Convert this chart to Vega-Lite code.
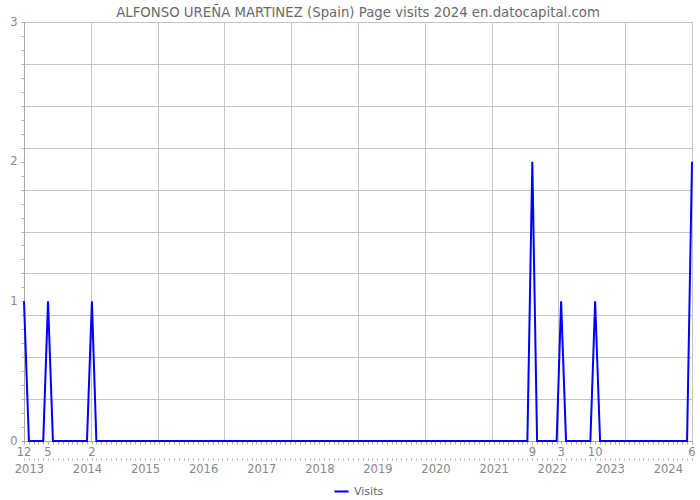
{
  "$schema": "https://vega.github.io/schema/vega-lite/v6.json",
  "width": 668,
  "height": 419,
  "autosize": "none",
  "padding": {"left": 24, "top": 22, "right": 8, "bottom": 59},
  "background": "white",
  "title": {
    "text": "ALFONSO UREÑA MARTINEZ (Spain) Page visits 2024 en.datocapital.com",
    "font": "DejaVu Sans",
    "fontSize": 13.3,
    "fontWeight": "normal",
    "color": "#6a6a6a",
    "frame": "group",
    "anchor": "middle",
    "offset": -3
  },
  "config": {
    "view": {"stroke": null},
    "axis": {"labelFont": "DejaVu Sans", "labelColor": "#888888", "labelFontSize": 11.5, "domainColor": "#aaaaaa", "tickColor": "#aaaaaa", "gridColor": "#c4c4c4", "gridWidth": 1, "title": null},
    "legend": {"layout": {"bottom": {"anchor": "middle"}}}
  },
  "data": {
    "values": [
      {"month": "2012-12-01", "visits": 1},
      {"month": "2013-01-01", "visits": 0}, {"month": "2013-02-01", "visits": 0}, {"month": "2013-03-01", "visits": 0}, {"month": "2013-04-01", "visits": 0},
      {"month": "2013-05-01", "visits": 1}, {"month": "2013-06-01", "visits": 0}, {"month": "2013-07-01", "visits": 0}, {"month": "2013-08-01", "visits": 0},
      {"month": "2013-09-01", "visits": 0}, {"month": "2013-10-01", "visits": 0}, {"month": "2013-11-01", "visits": 0}, {"month": "2013-12-01", "visits": 0},
      {"month": "2014-01-01", "visits": 0}, {"month": "2014-02-01", "visits": 1}, {"month": "2014-03-01", "visits": 0}, {"month": "2014-04-01", "visits": 0},
      {"month": "2014-05-01", "visits": 0}, {"month": "2014-06-01", "visits": 0}, {"month": "2014-07-01", "visits": 0}, {"month": "2014-08-01", "visits": 0},
      {"month": "2014-09-01", "visits": 0}, {"month": "2014-10-01", "visits": 0}, {"month": "2014-11-01", "visits": 0}, {"month": "2014-12-01", "visits": 0},
      {"month": "2015-01-01", "visits": 0}, {"month": "2015-02-01", "visits": 0}, {"month": "2015-03-01", "visits": 0}, {"month": "2015-04-01", "visits": 0},
      {"month": "2015-05-01", "visits": 0}, {"month": "2015-06-01", "visits": 0}, {"month": "2015-07-01", "visits": 0}, {"month": "2015-08-01", "visits": 0},
      {"month": "2015-09-01", "visits": 0}, {"month": "2015-10-01", "visits": 0}, {"month": "2015-11-01", "visits": 0}, {"month": "2015-12-01", "visits": 0},
      {"month": "2016-01-01", "visits": 0}, {"month": "2016-02-01", "visits": 0}, {"month": "2016-03-01", "visits": 0}, {"month": "2016-04-01", "visits": 0},
      {"month": "2016-05-01", "visits": 0}, {"month": "2016-06-01", "visits": 0}, {"month": "2016-07-01", "visits": 0}, {"month": "2016-08-01", "visits": 0},
      {"month": "2016-09-01", "visits": 0}, {"month": "2016-10-01", "visits": 0}, {"month": "2016-11-01", "visits": 0}, {"month": "2016-12-01", "visits": 0},
      {"month": "2017-01-01", "visits": 0}, {"month": "2017-02-01", "visits": 0}, {"month": "2017-03-01", "visits": 0}, {"month": "2017-04-01", "visits": 0},
      {"month": "2017-05-01", "visits": 0}, {"month": "2017-06-01", "visits": 0}, {"month": "2017-07-01", "visits": 0}, {"month": "2017-08-01", "visits": 0},
      {"month": "2017-09-01", "visits": 0}, {"month": "2017-10-01", "visits": 0}, {"month": "2017-11-01", "visits": 0}, {"month": "2017-12-01", "visits": 0},
      {"month": "2018-01-01", "visits": 0}, {"month": "2018-02-01", "visits": 0}, {"month": "2018-03-01", "visits": 0}, {"month": "2018-04-01", "visits": 0},
      {"month": "2018-05-01", "visits": 0}, {"month": "2018-06-01", "visits": 0}, {"month": "2018-07-01", "visits": 0}, {"month": "2018-08-01", "visits": 0},
      {"month": "2018-09-01", "visits": 0}, {"month": "2018-10-01", "visits": 0}, {"month": "2018-11-01", "visits": 0}, {"month": "2018-12-01", "visits": 0},
      {"month": "2019-01-01", "visits": 0}, {"month": "2019-02-01", "visits": 0}, {"month": "2019-03-01", "visits": 0}, {"month": "2019-04-01", "visits": 0},
      {"month": "2019-05-01", "visits": 0}, {"month": "2019-06-01", "visits": 0}, {"month": "2019-07-01", "visits": 0}, {"month": "2019-08-01", "visits": 0},
      {"month": "2019-09-01", "visits": 0}, {"month": "2019-10-01", "visits": 0}, {"month": "2019-11-01", "visits": 0}, {"month": "2019-12-01", "visits": 0},
      {"month": "2020-01-01", "visits": 0}, {"month": "2020-02-01", "visits": 0}, {"month": "2020-03-01", "visits": 0}, {"month": "2020-04-01", "visits": 0},
      {"month": "2020-05-01", "visits": 0}, {"month": "2020-06-01", "visits": 0}, {"month": "2020-07-01", "visits": 0}, {"month": "2020-08-01", "visits": 0},
      {"month": "2020-09-01", "visits": 0}, {"month": "2020-10-01", "visits": 0}, {"month": "2020-11-01", "visits": 0}, {"month": "2020-12-01", "visits": 0},
      {"month": "2021-01-01", "visits": 0}, {"month": "2021-02-01", "visits": 0}, {"month": "2021-03-01", "visits": 0}, {"month": "2021-04-01", "visits": 0},
      {"month": "2021-05-01", "visits": 0}, {"month": "2021-06-01", "visits": 0}, {"month": "2021-07-01", "visits": 0}, {"month": "2021-08-01", "visits": 0},
      {"month": "2021-09-01", "visits": 2}, {"month": "2021-10-01", "visits": 0}, {"month": "2021-11-01", "visits": 0}, {"month": "2021-12-01", "visits": 0},
      {"month": "2022-01-01", "visits": 0}, {"month": "2022-02-01", "visits": 0}, {"month": "2022-03-01", "visits": 1}, {"month": "2022-04-01", "visits": 0},
      {"month": "2022-05-01", "visits": 0}, {"month": "2022-06-01", "visits": 0}, {"month": "2022-07-01", "visits": 0}, {"month": "2022-08-01", "visits": 0},
      {"month": "2022-09-01", "visits": 0}, {"month": "2022-10-01", "visits": 1}, {"month": "2022-11-01", "visits": 0}, {"month": "2022-12-01", "visits": 0},
      {"month": "2023-01-01", "visits": 0}, {"month": "2023-02-01", "visits": 0}, {"month": "2023-03-01", "visits": 0}, {"month": "2023-04-01", "visits": 0},
      {"month": "2023-05-01", "visits": 0}, {"month": "2023-06-01", "visits": 0}, {"month": "2023-07-01", "visits": 0}, {"month": "2023-08-01", "visits": 0},
      {"month": "2023-09-01", "visits": 0}, {"month": "2023-10-01", "visits": 0}, {"month": "2023-11-01", "visits": 0}, {"month": "2023-12-01", "visits": 0},
      {"month": "2024-01-01", "visits": 0}, {"month": "2024-02-01", "visits": 0}, {"month": "2024-03-01", "visits": 0}, {"month": "2024-04-01", "visits": 0},
      {"month": "2024-05-01", "visits": 0}, {"month": "2024-06-01", "visits": 2}
    ]
  },
  "layer": [
    {
      "mark": {"type": "line", "opacity": 0},
      "encoding": {
        "x": {
          "field": "month", "type": "temporal",
          "scale": {"type": "utc", "domain": [1354320000000, 1717200000000], "nice": false},
          "axis": {"orient": "bottom", "grid": true, "ticks": false, "labels": false, "domain": false,
            "values": [1354320000000, 1390608000000, 1426896000000, 1463184000000, 1499472000000, 1535760000000, 1572048000000, 1608336000000, 1644624000000, 1680912000000, 1717200000000]}
        },
        "y": {
          "field": "visits", "type": "quantitative",
          "scale": {"domain": [0, 3], "nice": false, "zero": true},
          "axis": {"orient": "left", "grid": true, "ticks": false, "labels": false, "domain": false,
            "values": [0, 0.3, 0.6, 0.9, 1.2, 1.5, 1.8, 2.1, 2.4, 2.7, 3]}
        }
      }
    },
    {
      "mark": {"type": "line", "opacity": 0},
      "encoding": {
        "x": {
          "field": "month", "type": "temporal",
          "axis": {"orient": "bottom", "offset": 17, "grid": false, "domain": false, "tickSize": 2, "tickCount": {"interval": "month", "step": 1},
            "labelExpr": "utcmonth(datum.value) == 0 ? utcFormat(datum.value, '%Y') : ''", "labelOverlap": false, "labelFlush": false, "labelPadding": 3}
        },
        "y": {"field": "visits", "type": "quantitative", "axis": null}
      }
    },
    {
      "mark": {"type": "line", "color": "#0000ff", "strokeWidth": 2},
      "encoding": {
        "x": {
          "field": "month", "type": "temporal",
          "axis": {"orient": "bottom", "grid": false, "domain": true, "tickSize": 3, "labels": false, "tickCount": {"interval": "month", "step": 1}}
        },
        "y": {
          "field": "visits", "type": "quantitative",
          "axis": {"orient": "left", "grid": false, "domain": true, "tickSize": 3, "labelPadding": 4, "labelOverlap": false,
            "values": [0, 0.1, 0.2, 0.3, 0.4, 0.5, 0.6, 0.7, 0.8, 0.9, 1, 1.1, 1.2, 1.3, 1.4, 1.5, 1.6, 1.7, 1.8, 1.9, 2, 2.1, 2.2, 2.3, 2.4, 2.5, 2.6, 2.7, 2.8, 2.9, 3],
            "labelExpr": "abs(datum.value - round(datum.value)) < 0.001 ? format(datum.value, 'd') : ''"}
        },
        "color": {
          "datum": "Visits",
          "scale": {"range": ["#0000ff"]},
          "legend": {"orient": "bottom", "title": null, "symbolType": "stroke", "symbolStrokeWidth": 2, "symbolSize": 200, "labelFont": "DejaVu Sans", "labelFontSize": 11, "labelColor": "#666666", "offset": 8}
        }
      }
    },
    {
      "transform": [{"filter": "datum.visits > 0"}],
      "mark": {"type": "text", "font": "DejaVu Sans", "fontSize": 11.5, "color": "#888888", "baseline": "alphabetic", "align": "center", "dy": 15},
      "encoding": {
        "x": {"field": "month", "type": "temporal", "axis": null},
        "y": {"datum": 0, "type": "quantitative", "axis": null},
        "text": {"field": "month", "type": "temporal", "timeUnit": "utcmonth", "format": "%-m"}
      }
    }
  ],
  "resolve": {"axis": {"x": "independent", "y": "independent"}}
}
